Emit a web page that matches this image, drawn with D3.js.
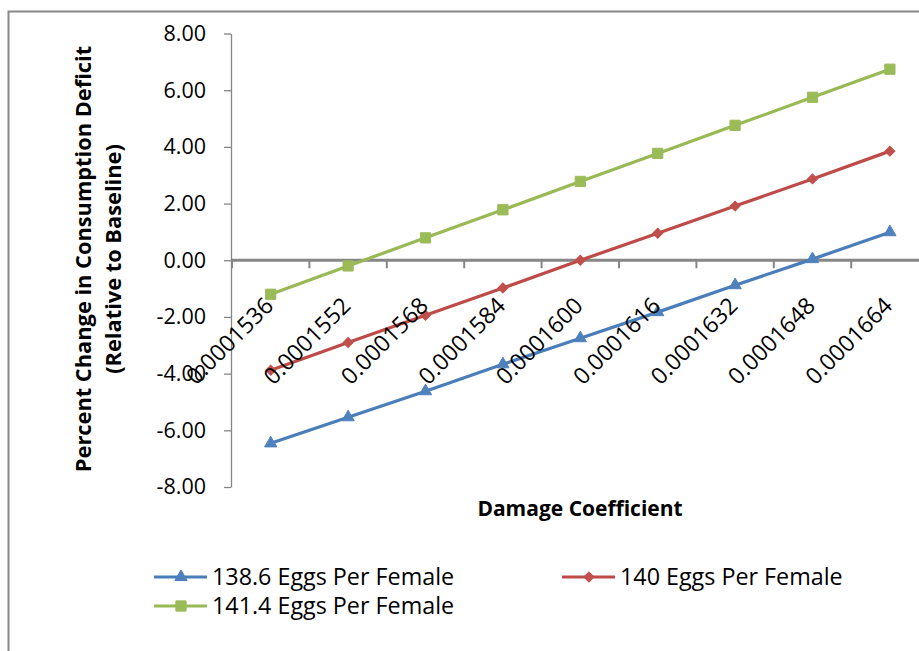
<!DOCTYPE html>
<html>
<head>
<meta charset="utf-8">
<script src="https://cdn.jsdelivr.net/npm/d3@7/dist/d3.min.js"></script>
<style>
  html, body { margin: 0; padding: 0; background: #fff; }
  svg { display: block; font-family: "Open Sans", "Noto Sans", sans-serif; }
</style>
</head>
<body>
<svg id="chart" width="919" height="651"></svg>
<script>
// Damage coefficient categories along the x axis
const categories = ["0.0001536", "0.0001552", "0.0001568", "0.0001584", "0.0001600",
                    "0.0001616", "0.0001632", "0.0001648", "0.0001664"];

// Percent change in consumption deficit for each fecundity scenario
const eggs1386 = [-6.46, -5.54, -4.62, -3.67, -2.75, -1.83, -0.88, 0.04, 0.99];
const eggs140  = [-3.88, -2.90, -1.94, -0.98, 0.00, 0.95, 1.91, 2.87, 3.85];
const eggs1414 = [-1.20, -0.20, 0.79, 1.78, 2.78, 3.77, 4.76, 5.75, 6.74];

const seriesNames = ["138.6 Eggs Per Female", "140 Eggs Per Female", "141.4 Eggs Per Female"];
const yTicks = [-8, -6, -4, -2, 0, 2, 4, 6, 8];

const series = [
  { name: seriesNames[0], values: eggs1386, line: "#4A7EBB", fill: "#4F81BD", symbol: d3.symbolTriangle, size: 65, rot: 0 },
  { name: seriesNames[1], values: eggs140,  line: "#BE4B48", fill: "#C0504D", symbol: d3.symbolSquare,   size: 50, rot: 45 },
  { name: seriesNames[2], values: eggs1414, line: "#98B954", fill: "#9BBB59", symbol: d3.symbolSquare,   size: 105, rot: 0 }
];

const svg = d3.select("#chart");
const axisGrey = "#868686";

// Outer chart frame
svg.append("rect")
  .attr("x", 8.5).attr("y", 11.5)
  .attr("width", 1000).attr("height", 1000)
  .attr("fill", "none").attr("stroke", "#888").attr("stroke-width", 2);

// Plot area
const plot = { left: 231, right: 928.6, top: 33.5, bottom: 487 };

const x = d3.scaleBand().domain(categories).range([plot.left + 1, plot.right]);
const y = d3.scaleLinear().domain([-8, 8]).range([plot.bottom, plot.top]);
const cx = c => x(c) + x.bandwidth() / 2;

// Y axis
const yAxis = svg.append("g")
  .attr("transform", `translate(${plot.left},0)`)
  .call(d3.axisLeft(y).tickValues(yTicks).tickFormat(d => d.toFixed(2))
        .tickSize(7).tickSizeOuter(0).tickPadding(18));
yAxis.select(".domain").attr("stroke", axisGrey).attr("stroke-width", 1.3);
yAxis.selectAll(".tick line").attr("stroke", axisGrey).attr("stroke-width", 1.3);
yAxis.selectAll(".tick text")
  .attr("fill", "#000")
  .style("font-size", "21.5px")
  .style("font-family", "'Open Sans', sans-serif");

// X axis at zero with ticks on category boundaries
const y0 = y(0);
const bounds = categories.map(c => x(c)).concat([x.range()[1]]);
const xAxis = svg.append("g");
xAxis.append("line")
  .attr("x1", plot.left).attr("x2", x.range()[1])
  .attr("y1", y0).attr("y2", y0)
  .attr("stroke", axisGrey).attr("stroke-width", 3);
xAxis.selectAll("line.tick")
  .data(bounds)
  .join("line")
  .attr("class", "tick")
  .attr("x1", d => d).attr("x2", d => d)
  .attr("y1", y0).attr("y2", y0 + 8)
  .attr("stroke", axisGrey).attr("stroke-width", 2);

// Series lines and markers
const line = d3.line().x((d, i) => cx(categories[i])).y(d => y(d));

series.forEach(s => {
  svg.append("path")
    .datum(s.values)
    .attr("d", line)
    .attr("fill", "none")
    .attr("stroke", s.line)
    .attr("stroke-width", 3.2)
    .attr("stroke-linejoin", "round");
  svg.append("g").selectAll("path")
    .data(s.values)
    .join("path")
    .attr("d", d3.symbol().type(s.symbol).size(s.size))
    .attr("transform", (d, i) => `translate(${cx(categories[i])},${y(d)}) rotate(${s.rot})`)
    .attr("fill", s.fill)
    .attr("stroke", s.fill)
    .attr("stroke-width", 1);
});

// Rotated category labels next to the zero line
svg.append("g").selectAll("text")
  .data(categories)
  .join("text")
  .attr("transform", c => `translate(${cx(c) + 4},${y0 + 47}) rotate(-45)`)
  .attr("text-anchor", "end")
  .style("font-size", "23px")
  .attr("fill", "#000")
  .text(c => c);

// Axis titles
svg.append("text")
  .attr("x", 580).attr("y", 516)
  .attr("text-anchor", "middle")
  .style("font-size", "21px").style("font-weight", "bold")
  .text("Damage Coefficient");

const yTitle = svg.append("g").attr("transform", `translate(0,259) rotate(-90)`);
yTitle.append("text")
  .attr("x", 0).attr("y", 91)
  .attr("text-anchor", "middle")
  .style("font-size", "21.8px").style("font-weight", "bold")
  .text("Percent Change in Consumption Deficit");
yTitle.append("text")
  .attr("x", 0).attr("y", 121)
  .attr("text-anchor", "middle")
  .style("font-size", "21.8px").style("font-weight", "bold")
  .text("(Relative to Baseline)");

// Legend
const legendPos = [
  { x: 154, y: 577 },
  { x: 562, y: 577 },
  { x: 154, y: 606 }
];
const legend = svg.append("g").selectAll("g")
  .data(series)
  .join("g")
  .attr("transform", (s, i) => `translate(${legendPos[i].x},${legendPos[i].y})`);
legend.append("line")
  .attr("x1", 0).attr("x2", 53).attr("y1", 0).attr("y2", 0)
  .attr("stroke", s => s.line).attr("stroke-width", 3.2);
legend.append("path")
  .attr("d", s => d3.symbol().type(s.symbol).size(s.size)())
  .attr("transform", s => `translate(27,0) rotate(${s.rot})`)
  .attr("fill", s => s.fill).attr("stroke", s => s.fill);
legend.append("text")
  .attr("x", 58).attr("y", 8)
  .style("font-size", "23.3px")
  .attr("fill", "#000")
  .text(s => s.name);
</script>
</body>
</html>
